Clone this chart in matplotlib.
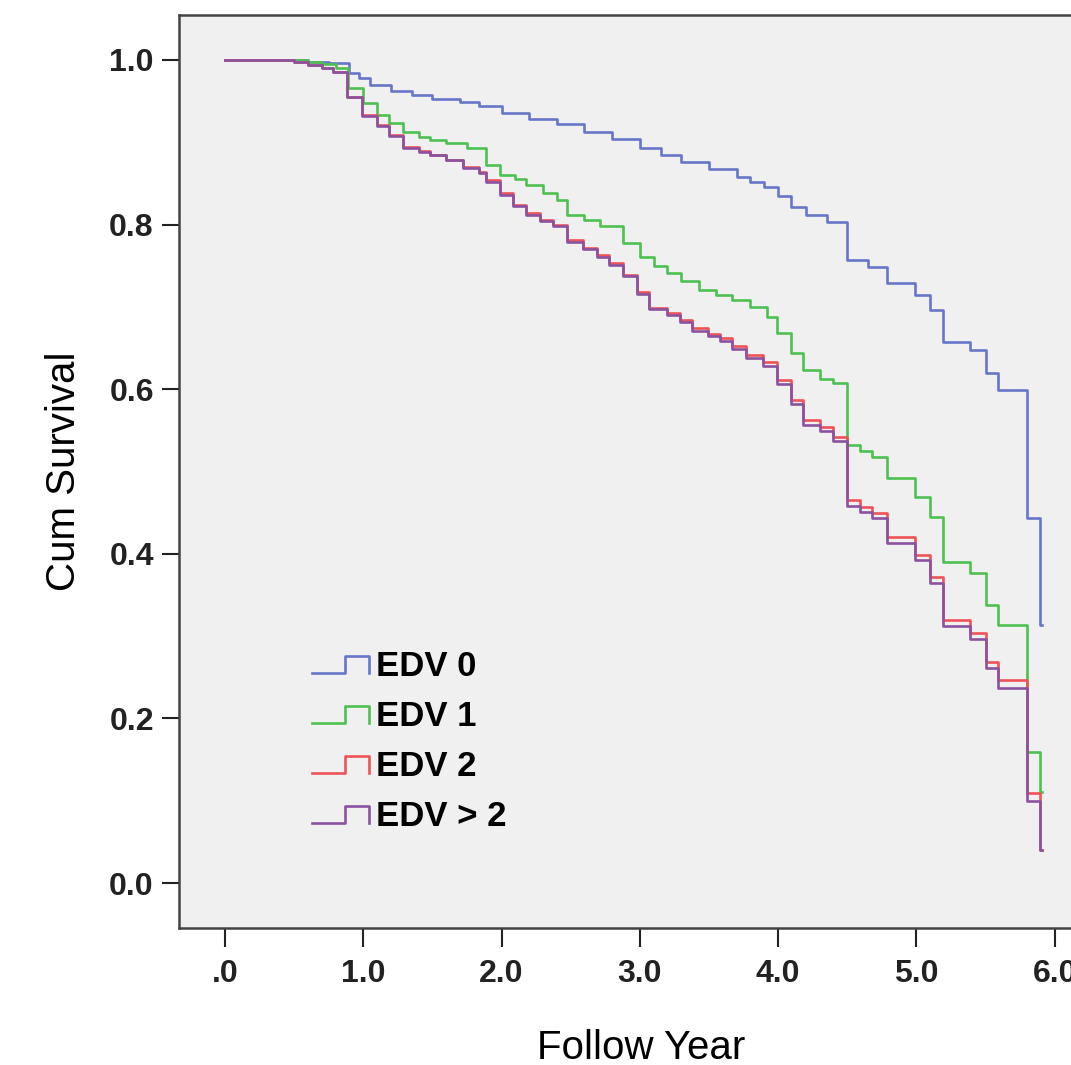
import matplotlib
matplotlib.use('Agg')
import matplotlib.pyplot as plt
from matplotlib.lines import Line2D
from matplotlib.legend_handler import HandlerBase

plt.rcParams['font.family'] = ['Liberation Sans', 'DejaVu Sans']

# Kaplan-Meier step curves: time (years) where a step starts, survival from there on
edv0_t = [0, 0.6, 0.75, 0.90, 0.97, 1.05, 1.2, 1.35, 1.5, 1.7, 1.84, 2.0, 2.2, 2.4, 2.6,
          2.8, 3.0, 3.15, 3.3, 3.5, 3.7, 3.8, 3.9, 4.0, 4.09, 4.2, 4.35, 4.5, 4.65, 4.79,
          4.99, 5.10, 5.19, 5.39, 5.50, 5.59, 5.80, 5.89, 5.91]
edv0_s = [1.000, 0.998, 0.996, 0.984, 0.978, 0.970, 0.962, 0.958, 0.953, 0.949, 0.944,
          0.936, 0.928, 0.922, 0.913, 0.904, 0.893, 0.884, 0.876, 0.867, 0.858, 0.852,
          0.846, 0.835, 0.821, 0.812, 0.803, 0.757, 0.748, 0.729, 0.714, 0.696, 0.657,
          0.648, 0.620, 0.599, 0.443, 0.313, 0.313]

edv1_t = [0, 0.6, 0.7, 0.8, 0.89, 1.0, 1.1, 1.19, 1.29, 1.4, 1.48, 1.6, 1.75, 1.89, 1.99,
          2.1, 2.18, 2.3, 2.4, 2.47, 2.6, 2.71, 2.88, 3.0, 3.1, 3.2, 3.3, 3.43, 3.55, 3.67,
          3.8, 3.92, 3.99, 4.09, 4.18, 4.3, 4.40, 4.50, 4.59, 4.68, 4.79, 4.99, 5.10, 5.19,
          5.39, 5.50, 5.59, 5.80, 5.89, 5.91]
edv1_s = [1.000, 0.998, 0.995, 0.990, 0.966, 0.948, 0.933, 0.923, 0.912, 0.906, 0.903,
          0.899, 0.893, 0.872, 0.860, 0.855, 0.848, 0.838, 0.830, 0.812, 0.806, 0.798,
          0.778, 0.760, 0.750, 0.741, 0.732, 0.720, 0.714, 0.708, 0.700, 0.688, 0.668,
          0.644, 0.623, 0.612, 0.607, 0.532, 0.525, 0.518, 0.492, 0.469, 0.445, 0.390,
          0.377, 0.338, 0.313, 0.159, 0.110, 0.110]

edv2_t = [0, 0.5, 0.6, 0.7, 0.78, 0.88, 0.99, 1.10, 1.19, 1.29, 1.40, 1.48, 1.6, 1.72,
          1.84, 1.89, 1.99, 2.08, 2.18, 2.28, 2.37, 2.47, 2.59, 2.69, 2.78, 2.88, 2.98,
          3.07, 3.2, 3.29, 3.38, 3.49, 3.58, 3.67, 3.77, 3.89, 3.99, 4.09, 4.18, 4.30,
          4.40, 4.50, 4.59, 4.68, 4.79, 4.99, 5.10, 5.19, 5.39, 5.50, 5.59, 5.80, 5.89, 5.91]
edv2_s = [1.000, 0.998, 0.994, 0.990, 0.985, 0.955, 0.933, 0.921, 0.909, 0.894, 0.889,
          0.885, 0.879, 0.870, 0.864, 0.854, 0.838, 0.824, 0.814, 0.806, 0.800, 0.781,
          0.772, 0.763, 0.753, 0.739, 0.718, 0.699, 0.693, 0.684, 0.674, 0.667, 0.662,
          0.652, 0.642, 0.633, 0.611, 0.587, 0.563, 0.554, 0.542, 0.465, 0.457, 0.450,
          0.420, 0.399, 0.372, 0.320, 0.304, 0.269, 0.247, 0.109, 0.040, 0.040]

edv3_t = edv2_t
edv3_s = [1.000, 0.998, 0.994, 0.990, 0.985, 0.955, 0.932, 0.920, 0.908, 0.893, 0.888,
          0.884, 0.878, 0.869, 0.863, 0.852, 0.836, 0.822, 0.812, 0.804, 0.798, 0.779,
          0.770, 0.761, 0.751, 0.737, 0.716, 0.697, 0.690, 0.681, 0.671, 0.664, 0.659,
          0.649, 0.638, 0.628, 0.606, 0.582, 0.557, 0.549, 0.537, 0.458, 0.451, 0.443,
          0.413, 0.392, 0.365, 0.312, 0.296, 0.261, 0.237, 0.100, 0.040, 0.040]

labels = ['EDV 0', 'EDV 1', 'EDV 2', 'EDV > 2']
colors = ['#6677c9', '#4cc150', '#ef5257', '#8a52a0']

x_ticks = [0, 1, 2, 3, 4, 5, 6]
x_tick_labels = ['.0', '1.0', '2.0', '3.0', '4.0', '5.0', '6.0']
y_ticks = [0.0, 0.2, 0.4, 0.6, 0.8, 1.0]
y_tick_labels = ['0.0', '0.2', '0.4', '0.6', '0.8', '1.0']


class StepHandler(HandlerBase):
    # little "_|‾|" step glyph like the SPSS legend
    def create_artists(self, legend, orig_handle, xdescent, ydescent, width, height,
                       fontsize, trans):
        lo = -ydescent + 0.12 * height
        hi = -ydescent + 0.85 * height
        x0 = -xdescent
        xs = [x0, x0 + 0.58 * width, x0 + 0.58 * width, x0 + width, x0 + width]
        ys = [lo, lo, hi, hi, lo]
        ln = Line2D(xs, ys, color=orig_handle.get_color(), lw=orig_handle.get_linewidth(),
                    transform=trans)
        return [ln]


fig = plt.figure(figsize=(10.71, 10.65), dpi=100)
ax = fig.add_axes([0.167, 0.1286, 0.863, 0.8574])
ax.set_facecolor('#f0f0f0')

series = [(edv0_t, edv0_s), (edv1_t, edv1_s), (edv2_t, edv2_s), (edv3_t, edv3_s)]
handles = []
for (t, s), lab, c in zip(series, labels, colors):
    h, = ax.step(t, s, where='post', color=c, lw=1.9, label=lab)
    handles.append(h)

ax.set_xlim(-0.333, 6.35)
ax.set_ylim(-0.0547, 1.0547)
ax.set_xticks(x_ticks)
ax.set_xticklabels(x_tick_labels, fontsize=23, fontweight='bold')
ax.set_yticks(y_ticks)
ax.set_yticklabels(y_tick_labels, fontsize=23, fontweight='bold')
ax.tick_params(axis='x', direction='out', length=14, width=1.5, pad=8, colors='#222222')
ax.tick_params(axis='y', direction='out', length=12, width=1.5, pad=6, colors='#222222')
for sp in ax.spines.values():
    sp.set_color('#444444')
    sp.set_linewidth(1.8)

ax.set_xlabel('Follow Year', fontsize=29, labelpad=29)
ax.set_ylabel('Cum Survival', fontsize=29, labelpad=19)

leg = ax.legend(handles=handles, labels=labels, handler_map={Line2D: StepHandler()},
                loc='upper left', bbox_to_anchor=(0.129, 0.3195), frameon=False,
                prop={'size': 25, 'weight': 'bold'}, handlelength=1.65,
                handletextpad=0.2, labelspacing=0.49, borderaxespad=0)

fig.savefig('out.png', dpi=100)
